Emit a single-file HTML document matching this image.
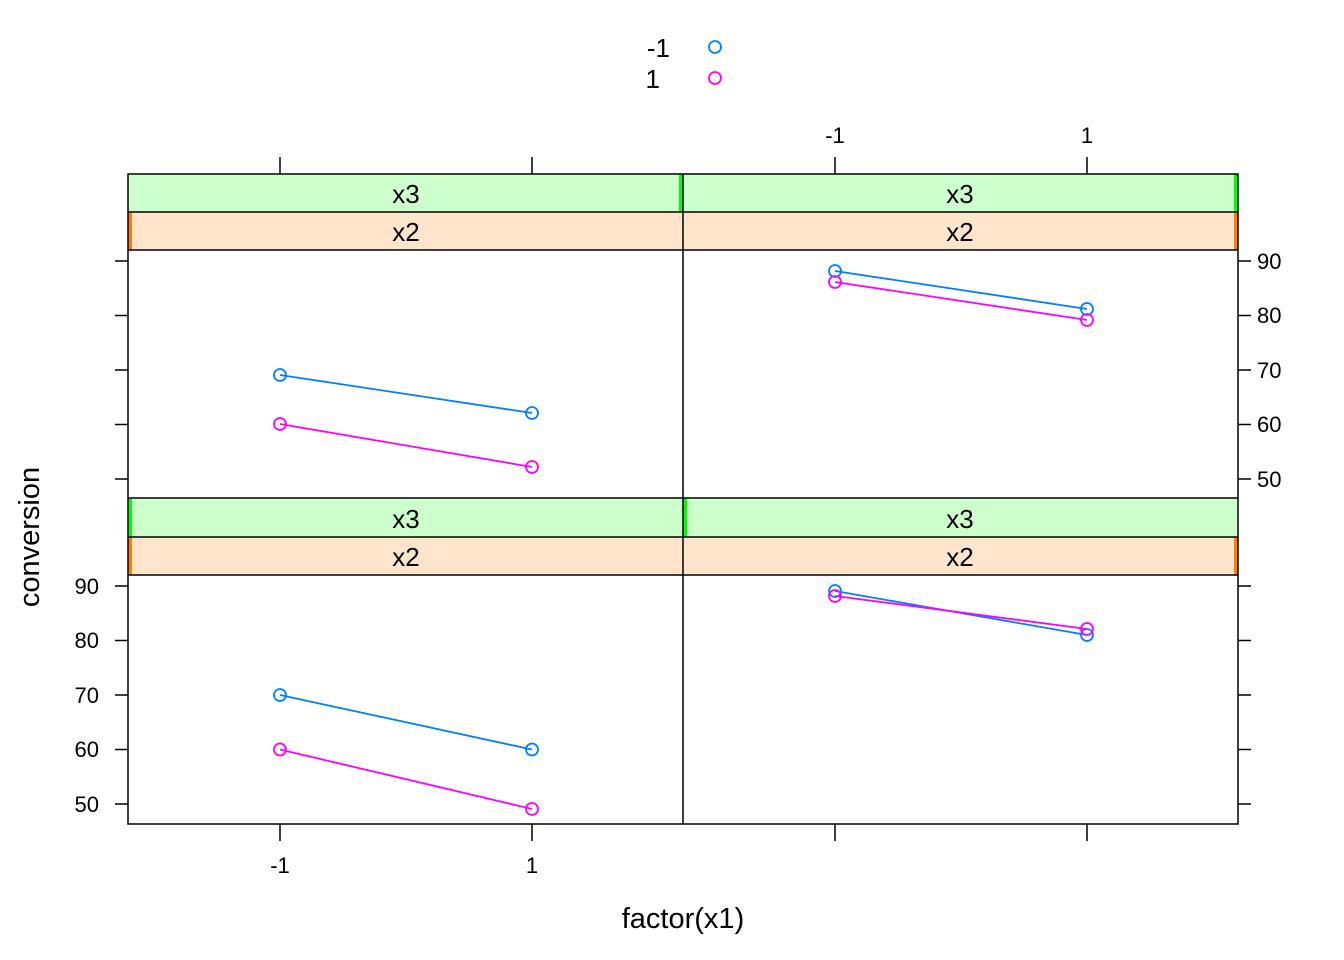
<!DOCTYPE html>
<html><head><meta charset="utf-8"><style>html,body{margin:0;padding:0;background:#fff}svg{display:block}</style></head>
<body>
<svg width="1344" height="960" xmlns="http://www.w3.org/2000/svg" font-family="Liberation Sans, Arial, sans-serif">
<rect width="1344" height="960" fill="#fff"/>
<text x="670" y="57" font-size="26" text-anchor="end">-1</text>
<text x="660" y="88" font-size="26" text-anchor="end">1</text>
<circle cx="715" cy="47" r="6" fill="none" stroke="#0080ff" stroke-width="1.8"/>
<circle cx="715" cy="78" r="6" fill="none" stroke="#ff00ff" stroke-width="1.8"/>

<rect x="128" y="174" width="555" height="38" fill="#ccffcc"/>
<rect x="683" y="174" width="555" height="38" fill="#ccffcc"/>
<rect x="128" y="212" width="555" height="38" fill="#ffe5cc"/>
<rect x="683" y="212" width="555" height="38" fill="#ffe5cc"/>
<rect x="679" y="174" width="4" height="38" fill="#00ff00"/>
<rect x="1234" y="174" width="4" height="38" fill="#00ff00"/>
<rect x="128" y="212" width="4" height="38" fill="#ff7f00"/>
<rect x="1234" y="212" width="4" height="38" fill="#ff7f00"/>
<rect x="128" y="498" width="555" height="39" fill="#ccffcc"/>
<rect x="683" y="498" width="555" height="39" fill="#ccffcc"/>
<rect x="128" y="537" width="555" height="38" fill="#ffe5cc"/>
<rect x="683" y="537" width="555" height="38" fill="#ffe5cc"/>
<rect x="128" y="498" width="4" height="39" fill="#00ff00"/>
<rect x="683" y="498" width="4" height="39" fill="#00ff00"/>
<rect x="128" y="537" width="4" height="38" fill="#ff7f00"/>
<rect x="1234" y="537" width="4" height="38" fill="#ff7f00"/>

<g fill="none" stroke="#000" stroke-width="1.5">
<rect x="128" y="174" width="1110" height="650"/>
<line x1="683" y1="174" x2="683" y2="824"/>
<line x1="128" y1="212" x2="1238" y2="212"/>
<line x1="128" y1="250" x2="1238" y2="250"/>
<line x1="128" y1="498" x2="1238" y2="498"/>
<line x1="128" y1="537" x2="1238" y2="537"/>
<line x1="128" y1="575" x2="1238" y2="575"/>
<line x1="280" y1="174" x2="280" y2="157"/><line x1="532" y1="174" x2="532" y2="157"/>
<line x1="835" y1="174" x2="835" y2="157"/><line x1="1087" y1="174" x2="1087" y2="157"/>
<line x1="280" y1="824" x2="280" y2="841"/><line x1="532" y1="824" x2="532" y2="841"/>
<line x1="835" y1="824" x2="835" y2="841"/><line x1="1087" y1="824" x2="1087" y2="841"/>
<line x1="128" y1="261" x2="115" y2="261"/><line x1="128" y1="315.5" x2="115" y2="315.5"/>
<line x1="128" y1="370" x2="115" y2="370"/><line x1="128" y1="424.5" x2="115" y2="424.5"/>
<line x1="128" y1="479" x2="115" y2="479"/>
<line x1="1238" y1="261" x2="1251" y2="261"/><line x1="1238" y1="315.5" x2="1251" y2="315.5"/>
<line x1="1238" y1="370" x2="1251" y2="370"/><line x1="1238" y1="424.5" x2="1251" y2="424.5"/>
<line x1="1238" y1="479" x2="1251" y2="479"/>
<line x1="128" y1="586" x2="115" y2="586"/><line x1="128" y1="640.5" x2="115" y2="640.5"/>
<line x1="128" y1="695" x2="115" y2="695"/><line x1="128" y1="749.5" x2="115" y2="749.5"/>
<line x1="128" y1="804" x2="115" y2="804"/>
<line x1="1238" y1="586" x2="1251" y2="586"/><line x1="1238" y1="640.5" x2="1251" y2="640.5"/>
<line x1="1238" y1="695" x2="1251" y2="695"/><line x1="1238" y1="749.5" x2="1251" y2="749.5"/>
<line x1="1238" y1="804" x2="1251" y2="804"/>
</g>

<g font-size="26" text-anchor="middle">
<text x="406" y="203">x3</text><text x="960" y="203">x3</text>
<text x="406" y="241">x2</text><text x="960" y="241">x2</text>
<text x="406" y="528">x3</text><text x="960" y="528">x3</text>
<text x="406" y="566">x2</text><text x="960" y="566">x2</text>
</g>
<g font-size="29" text-anchor="middle">
<text x="683" y="928">factor(x1)</text>
<text transform="translate(39,537) rotate(-90)">conversion</text>
</g>
<g font-size="22">
<text x="835" y="143" text-anchor="middle">-1</text><text x="1087" y="143" text-anchor="middle">1</text>
<text x="280" y="873" text-anchor="middle">-1</text><text x="532" y="873" text-anchor="middle">1</text>
<g text-anchor="start">
<text x="1257" y="269">90</text><text x="1257" y="323">80</text><text x="1257" y="378">70</text><text x="1257" y="432">60</text><text x="1257" y="487">50</text>
</g>
<g text-anchor="end">
<text x="99" y="594">90</text><text x="99" y="648">80</text><text x="99" y="703">70</text><text x="99" y="757">60</text><text x="99" y="812">50</text>
</g>
</g>

<g fill="none" stroke-width="1.8">
<g stroke="#0080ff">
<line x1="280" y1="375" x2="532" y2="413"/><circle cx="280" cy="375" r="6"/><circle cx="532" cy="413" r="6"/>
<line x1="835" y1="271" x2="1087" y2="309"/><circle cx="835" cy="271" r="6"/><circle cx="1087" cy="309" r="6"/>
<line x1="280" y1="695" x2="532" y2="749.5"/><circle cx="280" cy="695" r="6"/><circle cx="532" cy="749.5" r="6"/>
<line x1="835" y1="591" x2="1087" y2="635"/><circle cx="835" cy="591" r="6"/><circle cx="1087" cy="635" r="6"/>
</g>
<g stroke="#ff00ff">
<line x1="280" y1="424" x2="532" y2="467"/><circle cx="280" cy="424" r="6"/><circle cx="532" cy="467" r="6"/>
<line x1="835" y1="282" x2="1087" y2="320"/><circle cx="835" cy="282" r="6"/><circle cx="1087" cy="320" r="6"/>
<line x1="280" y1="749.5" x2="532" y2="809"/><circle cx="280" cy="749.5" r="6"/><circle cx="532" cy="809" r="6"/>
<line x1="835" y1="596" x2="1087" y2="629"/><circle cx="835" cy="596" r="6"/><circle cx="1087" cy="629" r="6"/>
</g>
</g>
</svg>
</body></html>
